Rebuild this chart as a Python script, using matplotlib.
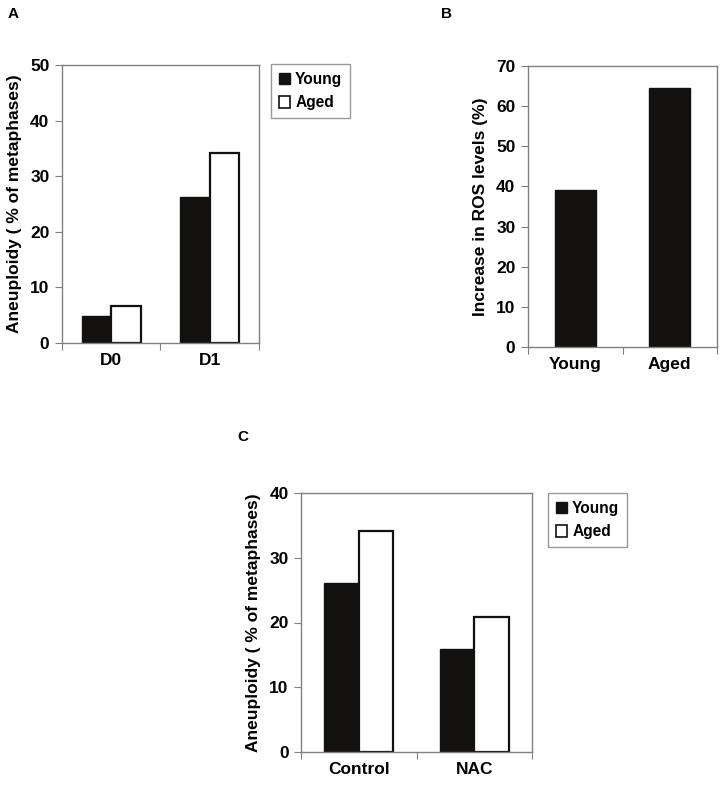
import matplotlib
matplotlib.use("Agg")
import matplotlib.pyplot as plt
from matplotlib.patches import Patch

plt.rcParams["font.family"] = ["Liberation Sans", "DejaVu Sans"]
plt.rcParams["font.weight"] = "bold"

# ── data ─────────────────────────────────────────────
groups_a = ["D0", "D1"]
young_a = [4.9, 26.3]
aged_a = [6.7, 34.2]

groups_b = ["Young", "Aged"]
ros_b = [39.0, 64.6]

groups_c = ["Control", "NAC"]
young_c = [26.1, 15.9]
aged_c = [34.1, 20.8]

W, H = 723, 787
FS = 12.5
fig = plt.figure(figsize=(W / 100, H / 100), dpi=100)

def px_axes(left, top, right, bottom):
    return fig.add_axes([left / W, 1 - bottom / H, (right - left) / W, (bottom - top) / H])

DARK = "#121110"
SPINE = "#808080"

def style(ax, n):
    for s in ax.spines.values():
        s.set_color(SPINE)
        s.set_linewidth(1.0)
    ax.set_xlim(-0.5, n - 0.5)
    ax.set_xticks([i - 0.5 for i in range(n + 1)])
    ax.set_xticklabels([])
    ax.set_xticks(range(n), minor=True)
    ax.tick_params(axis="x", which="major", length=5, color=SPINE, direction="out")
    ax.tick_params(axis="x", which="minor", length=0, labelsize=FS, pad=7)
    ax.tick_params(axis="y", length=5, color=SPINE, direction="out", labelsize=FS, pad=4)
    for t in ax.get_yticklabels():
        t.set_fontweight("bold")

def grouped(ax, groups, young, aged, width):
    x = range(len(groups))
    ax.bar([i - width / 2 for i in x], young, width, color=DARK, edgecolor=DARK, linewidth=1)
    ax.bar([i + width / 2 for i in x], aged, width, color="white", edgecolor=DARK, linewidth=1.6)
    ax.set_xticklabels(groups, minor=True, fontweight="bold")

def legend(ax, left, top):
    handles = [Patch(facecolor=DARK, edgecolor=DARK, label="Young"),
               Patch(facecolor="white", edgecolor=DARK, linewidth=1.2, label="Aged")]
    lg = fig.legend(handles=handles, loc="upper left",
                    bbox_to_anchor=(left / W, 1 - top / H), frameon=True, fancybox=False,
                    prop={"weight": "bold", "size": 11.2}, handlelength=0.75, handleheight=0.75,
                    handletextpad=0.3, borderpad=0.5, labelspacing=0.55, borderaxespad=0)
    lg.get_frame().set_edgecolor(SPINE)
    lg.get_frame().set_linewidth(1.0)

# ── Panel A ──────────────────────────────────────────
ax_a = px_axes(62, 65, 259, 343)
grouped(ax_a, groups_a, young_a, aged_a, 0.3)
ax_a.set_ylim(0, 50)
ax_a.set_yticks(range(0, 51, 10))
style(ax_a, 2)
ax_a.set_ylabel("Aneuploidy ( % of metaphases)", fontsize=FS, fontweight="bold", labelpad=6)
legend(ax_a, 271, 64)

# ── Panel B ──────────────────────────────────────────
ax_b = px_axes(528, 66, 717, 347)
ax_b.bar(range(len(groups_b)), ros_b, 0.43, color=DARK, edgecolor=DARK)
ax_b.set_ylim(0, 70)
ax_b.set_yticks(range(0, 71, 10))
style(ax_b, 2)
ax_b.set_xticklabels(groups_b, minor=True, fontweight="bold")
ax_b.set_ylabel("Increase in ROS levels (%)", fontsize=FS, fontweight="bold", labelpad=6)

# ── Panel C ──────────────────────────────────────────
ax_c = px_axes(301, 493, 532, 752)
grouped(ax_c, groups_c, young_c, aged_c, 0.3)
ax_c.set_ylim(0, 40)
ax_c.set_yticks(range(0, 41, 10))
style(ax_c, 2)
ax_c.set_ylabel("Aneuploidy ( % of metaphases)", fontsize=FS, fontweight="bold", labelpad=6)
legend(ax_c, 548, 493)

# panel letters
for lbl, x, y in [("A", 8, 14), ("B", 441, 14), ("C", 237, 437)]:
    fig.text(x / W, 1 - y / H, lbl, fontsize=11, fontweight="bold", va="center", ha="left")

fig.savefig("out.png", dpi=100, facecolor="white")
